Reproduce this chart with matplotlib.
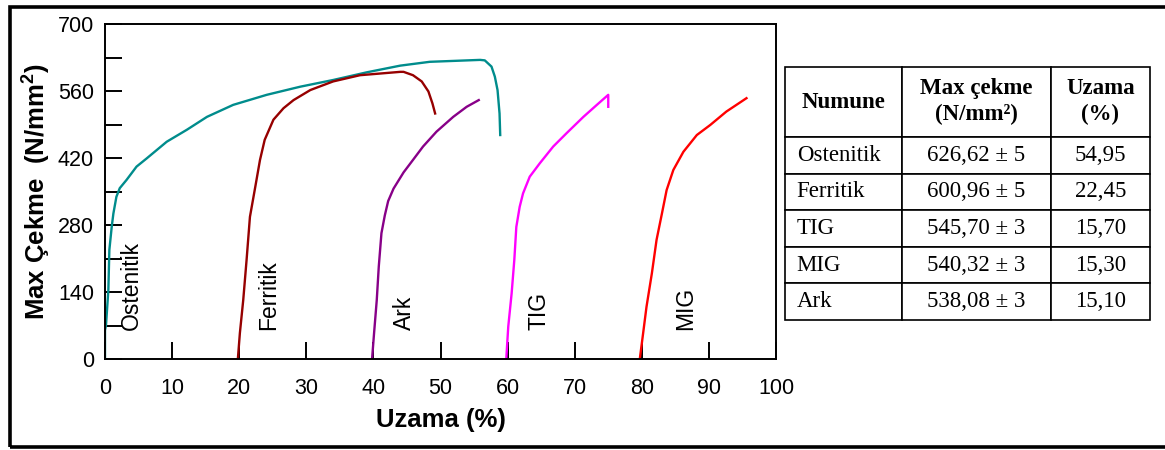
import matplotlib.pyplot as plt
from matplotlib.patches import Rectangle

plt.rcParams['font.family'] = ['Liberation Sans', 'DejaVu Sans']
plt.rcParams['mathtext.fontset'] = 'custom'
plt.rcParams['mathtext.rm'] = 'Liberation Sans'
plt.rcParams['mathtext.bf'] = 'Liberation Sans:bold'

# stress-strain curves (uzama %, cekme N/mm2)
ost_x = [0, 0.0, 0.15, 0.5, 0.65, 1.0, 1.25, 1.7, 2.2, 3.2, 4.7, 6.2, 9.2, 12.2, 15.2, 19.1, 24.1,
         29.1, 34.0, 39.0, 44.0, 48.4, 55.9, 56.6, 57.6, 58.1, 58.5, 58.8, 58.9]
ost_y = [0, 60, 71, 144, 228, 276, 304, 339, 357, 374, 402, 419, 454, 479, 506, 531, 552,
         569, 583, 599, 613, 621, 625, 624, 611, 590, 562, 513, 468]

fer_x = [19.8, 20.1, 20.6, 21.1, 21.6, 22.4, 23.1, 23.8, 25.1, 26.6, 28.1, 30.6, 34.0, 38.0,
         44.0, 44.5, 45.9, 47.2, 48.2, 48.8, 49.2]
fer_y = [0, 54, 123, 207, 297, 360, 416, 458, 500, 524, 541, 562, 580, 593,
         600, 600, 593, 580, 559, 534, 513]

ark_x = [39.8, 40.1, 40.5, 40.8, 41.2, 41.7, 42.2, 43.0, 44.5, 45.9, 47.4, 49.4, 51.9, 53.9, 55.7]
ark_y = [0, 54, 123, 193, 263, 300, 330, 356, 390, 416, 444, 475, 506, 527, 541]

tig_x = [59.8, 60.1, 60.6, 61.0, 61.3, 61.8, 62.3, 63.3, 64.8, 66.8, 68.8, 71.3, 73.3, 75.0, 75.0]
tig_y = [0, 68, 137, 207, 276, 318, 346, 381, 409, 444, 472, 506, 531, 552, 527]

mig_x = [79.7, 80.2, 80.7, 81.5, 82.2, 83.0, 83.7, 84.7, 86.2, 88.2, 90.2, 92.6, 95.6]
mig_y = [0, 54, 109, 179, 249, 304, 353, 395, 433, 468, 489, 517, 545]

labels = ['Ostenitik', 'Ferritik', 'Ark', 'TIG', 'MIG']
label_x = [4.0, 24.4, 44.7, 64.7, 86.6]
colors = ['#008c8c', '#960000', '#880088', '#ff00ff', '#ff0000']

# table
tab_header = ['Numune', 'Max çekme\n(N/mm²)', 'Uzama\n(%)']
tab_names = ['Ostenitik', 'Ferritik', 'TIG', 'MIG', 'Ark']
tab_cekme = ['626,62 ± 5', '600,96 ± 5', '545,70 ± 3', '540,32 ± 3', '538,08 ± 3']
tab_uzama = ['54,95', '22,45', '15,70', '15,30', '15,10']

W, H = 1165, 450
fig = plt.figure(figsize=(W / 100, H / 100), dpi=100)

# outer frame
fig.patches.append(Rectangle((9.5 / W, 3 / H), 1.2, (H - 9.5) / H, transform=fig.transFigure,
                             fill=False, lw=2.6, ec='black', zorder=0))

ax = fig.add_axes([105 / W, 1 - 359 / H, 671 / W, 335 / H])
curves = [(ost_x, ost_y), (fer_x, fer_y), (ark_x, ark_y), (tig_x, tig_y), (mig_x, mig_y)]
for (x, y), c in zip(curves, colors):
    ax.plot(x, y, color=c, lw=1.7)

for lab, lx in zip(labels, label_x):
    ax.text(lx, 60, lab, rotation=90, ha='center', va='bottom', fontsize=16.5)

ax.set_xlim(0, 100)
ax.set_ylim(0, 700)
ax.set_xticks(range(0, 101, 10))
yt = list(range(0, 701, 70))
ax.set_yticks(yt)
ax.set_yticklabels([str(v) if v % 140 == 0 else '' for v in yt])
ax.tick_params(axis='both', direction='in', length=12, width=1.4, labelsize=15.5)
ax.tick_params(axis='y', pad=8)
ax.tick_params(axis='x', pad=14)
for s in ax.spines.values():
    s.set_linewidth(1.4)

ax.set_xlabel('Uzama (%)', fontsize=18.5, fontweight='bold', labelpad=6)
ax.set_ylabel(r'Max Çekme  (N/mm$^{\mathbf{2}}$)', fontsize=18.5, fontweight='bold', labelpad=4)

# table on the right
tax = fig.add_axes([785 / W, 1 - 320 / H, 365 / W, 253 / H])
tax.axis('off')
rows = [[n, c, u] for n, c, u in zip(tab_names, tab_cekme, tab_uzama)]
tb = tax.table(cellText=rows, colLabels=tab_header, cellLoc='center',
               colWidths=[117, 149, 99], bbox=[0, 0, 1, 1])
tb.auto_set_font_size(False)
for (r, c), cell in tb.get_celld().items():
    cell.set_linewidth(1.2)
    cell.set_height(70 if r == 0 else 36.6)
    t = cell.get_text()
    t.set_fontfamily(['Liberation Serif', 'DejaVu Serif'])
    t.set_fontsize(16.5)
    if r == 0:
        t.set_fontweight('bold')
        t.set_linespacing(1.3)
    elif c == 0:
        cell._loc = 'left'
        t.set_ha('left')

fig.savefig('out.png', dpi=100)
